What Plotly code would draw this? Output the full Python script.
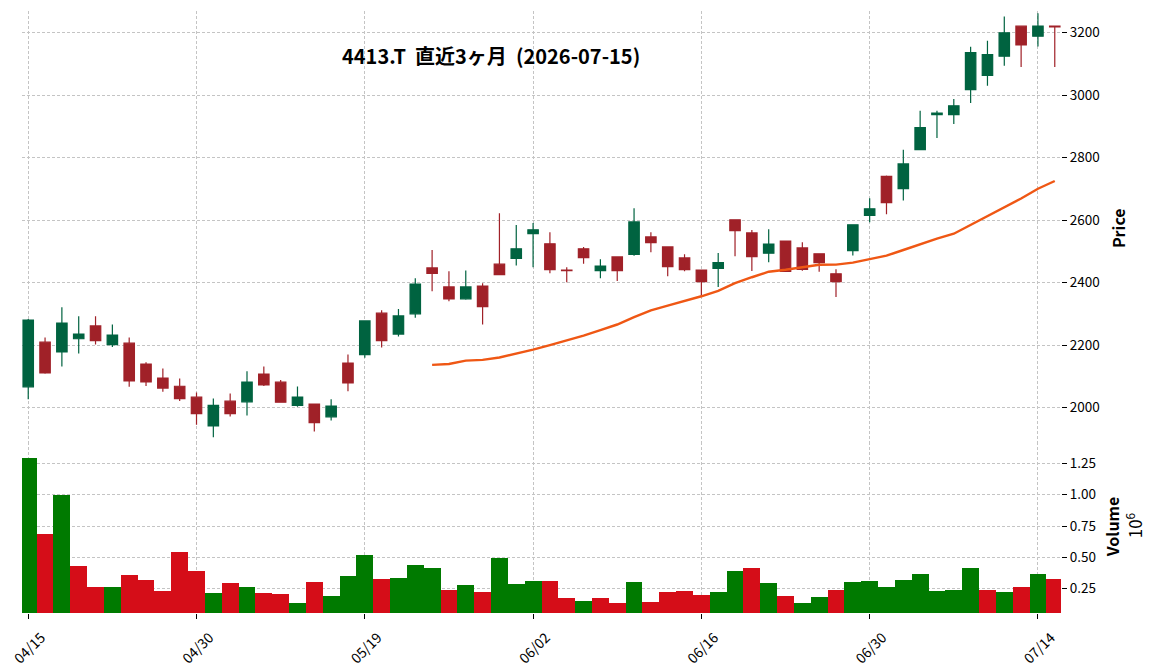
import plotly.graph_objects as go
import pandas as pd

dates = ["04/15","04/16","04/17","04/20","04/21","04/22","04/23","04/24","04/27","04/28",
         "04/30","05/01","05/07","05/08","05/11","05/12","05/13","05/14","05/15","05/18",
         "05/19","05/20","05/21","05/22","05/25","05/26","05/27","05/28","05/29","06/01",
         "06/02","06/03","06/04","06/05","06/08","06/09","06/10","06/11","06/12","06/15",
         "06/16","06/17","06/18","06/19","06/22","06/23","06/24","06/25","06/26","06/29",
         "06/30","07/01","07/02","07/03","07/06","07/07","07/08","07/09","07/10","07/13",
         "07/14","07/15"]

opens = [2066,2209,2178,2220,2261,2201,2206,2139,2094,2068,
         2033,1941,2020,2018,2107,2081,2007,2011,1970,2142,
         2169,2302,2235,2300,2447,2386,2348,2389,2459,2477,
         2557,2524,2440,2508,2438,2482,2490,2546,2514,2479,
         2440,2445,2601,2559,2494,2533,2511,2492,2428,2502,
         2615,2740,2701,2826,2938,2938,3018,3063,3125,3221,
         3189,3221]
highs = [2283,2224,2321,2292,2292,2266,2224,2145,2125,2093,
         2048,2029,2045,2116,2131,2088,2067,2012,2026,2170,
         2279,2311,2315,2414,2504,2436,2439,2398,2622,2584,
         2591,2561,2449,2514,2475,2483,2638,2561,2515,2491,
         2441,2495,2602,2568,2571,2534,2529,2493,2443,2586,
         2670,2743,2825,2950,2950,2988,3155,3174,3252,3222,
         3262,3222]
lows = [2026,2108,2131,2173,2202,2194,2066,2069,2050,2021,
        1945,1905,1971,1974,2069,2015,2002,1923,1958,2052,
        2159,2192,2227,2287,2372,2340,2345,2266,2424,2455,
        2449,2430,2401,2460,2414,2405,2486,2497,2420,2436,
        2359,2386,2484,2437,2465,2435,2438,2435,2354,2487,
        2593,2619,2663,2825,2863,2908,2975,3030,3094,3090,
        3156,3090]
closes = [2280,2111,2270,2235,2214,2232,2085,2082,2062,2028,
          1980,2007,1980,2081,2072,2017,2033,1951,2004,2079,
          2277,2214,2293,2395,2429,2348,2386,2323,2425,2508,
          2569,2441,2438,2480,2453,2438,2594,2528,2451,2441,
          2403,2464,2566,2483,2523,2436,2442,2464,2403,2585,
          2636,2656,2780,2896,2943,2966,3136,3130,3200,3161,
          3221,3219]
volumes = [1293000,685000,997000,429000,261000,261000,357000,317000,229000,541000,
           389000,213000,293000,261000,213000,205000,133000,301000,189000,349000,
           517000,325000,333000,437000,413000,237000,277000,221000,493000,285000,
           309000,309000,173000,149000,173000,133000,301000,141000,221000,229000,
           197000,221000,389000,413000,293000,189000,133000,181000,237000,301000,
           309000,261000,317000,365000,229000,237000,413000,237000,221000,261000,
           365000,325000]

price_ticks = [2000, 2200, 2400, 2600, 2800, 3000, 3200]
vol_ticks = [250000, 500000, 750000, 1000000, 1250000]
vol_tick_text = ["0.25", "0.50", "0.75", "1.00", "1.25"]
title_text = "4413.T\u00a0\u00a0直近3ヶ月\u00a0\u00a0(2026-07-15)"

idx = list(range(len(dates)))
ma25 = pd.Series(closes).rolling(25).mean()

UP, DOWN = "#006340", "#a02128"
VUP, VDOWN = "#007a00", "#d50d18"
vol_colors = [VUP] + [VUP if closes[i] >= closes[i - 1] else VDOWN for i in range(1, len(closes))]

FONT = "Noto Sans CJK JP"
GRID = "#c4c4c4"
TICKSIZE = 13.5

fig = go.Figure()
fig.add_trace(go.Candlestick(
    x=idx, open=opens, high=highs, low=lows, close=closes,
    increasing=dict(line=dict(color=UP, width=1.2), fillcolor=UP),
    decreasing=dict(line=dict(color=DOWN, width=1.2), fillcolor=DOWN),
    xaxis="x2", yaxis="y2", showlegend=False, hoverinfo="skip"))
fig.add_trace(go.Scatter(
    x=idx, y=ma25, mode="lines", line=dict(color="#ef5714", width=2.4),
    xaxis="x2", yaxis="y2", showlegend=False, hoverinfo="skip"))
fig.add_trace(go.Bar(
    x=idx, y=volumes, width=1.0, marker=dict(color=vol_colors, line=dict(width=0)),
    xaxis="x", yaxis="y", showlegend=False, hoverinfo="skip"))

tickvals_x = idx[::10]
ticktext_x = dates[::10]
xr = [-0.37, 61.37]
split = 0.2842

common_x = dict(range=xr, tickvals=tickvals_x, showgrid=True, gridcolor=GRID,
                griddash="3px,2px", gridwidth=1, zeroline=False, showline=False)

def px_x(px):
    return (px - 22) / 1039

def px_y(py):
    return (612.7 - py) / 601.7

fig.update_layout(
    width=1156, height=670,
    margin=dict(l=22, r=95, t=11, b=57),
    paper_bgcolor="white", plot_bgcolor="white",
    font=dict(family=FONT, size=12, color="black"),
    boxgap=0.38, boxgroupgap=0,
    bargap=0,
    xaxis=dict(domain=[0, 1], anchor="y", ticktext=ticktext_x, tickangle=-45,
               ticks="outside", ticklen=5, tickcolor="black",
               ticklabeloverflow="allow", ticklabelshift=13, ticklabelstandoff=5,
               tickfont=dict(size=14), automargin=False, **common_x),
    xaxis2=dict(domain=[0, 1], anchor="y2", matches="x", showticklabels=False,
                ticks="", rangeslider=dict(visible=False), automargin=False, **common_x),
    yaxis=dict(domain=[0, split], side="right", range=[55000, 1422000],
               tickvals=vol_ticks, ticktext=vol_tick_text,
               ticks="outside", ticklen=5, tickcolor="black",
               showgrid=True, gridcolor=GRID, griddash="3px,2px", gridwidth=1,
               zeroline=False, showline=False, automargin=False,
               tickfont=dict(size=TICKSIZE)),
    yaxis2=dict(domain=[split, 1], side="right", range=[1889.7, 3269.6],
                tickvals=price_ticks,
                ticks="outside", ticklen=5, tickcolor="black",
                showgrid=True, gridcolor=GRID, griddash="3px,2px", gridwidth=1,
                zeroline=False, showline=False, automargin=False,
                tickfont=dict(size=TICKSIZE)),
    annotations=[
        dict(text="<b>" + title_text + "</b>", xref="paper", yref="paper",
             x=0.4514, y=0.9269, xanchor="center", yanchor="middle",
             showarrow=False, font=dict(family=FONT, size=20, color="black")),
        dict(text="<b>Price</b>", xref="paper", yref="paper",
             x=px_x(1118), y=px_y(228), xanchor="center", yanchor="middle",
             textangle=-90, showarrow=False, font=dict(family=FONT, size=16, color="black")),
        dict(text="<b>Volume</b>", xref="paper", yref="paper",
             x=px_x(1112), y=px_y(527), xanchor="center", yanchor="middle",
             textangle=-90, showarrow=False, font=dict(family=FONT, size=16, color="black")),
        dict(text="10<sup>6</sup>", xref="paper", yref="paper",
             x=px_x(1134), y=px_y(525), xanchor="center", yanchor="middle",
             textangle=-90, showarrow=False, font=dict(family=FONT, size=17, color="black")),
    ],
)

fig.write_html("out.html")
